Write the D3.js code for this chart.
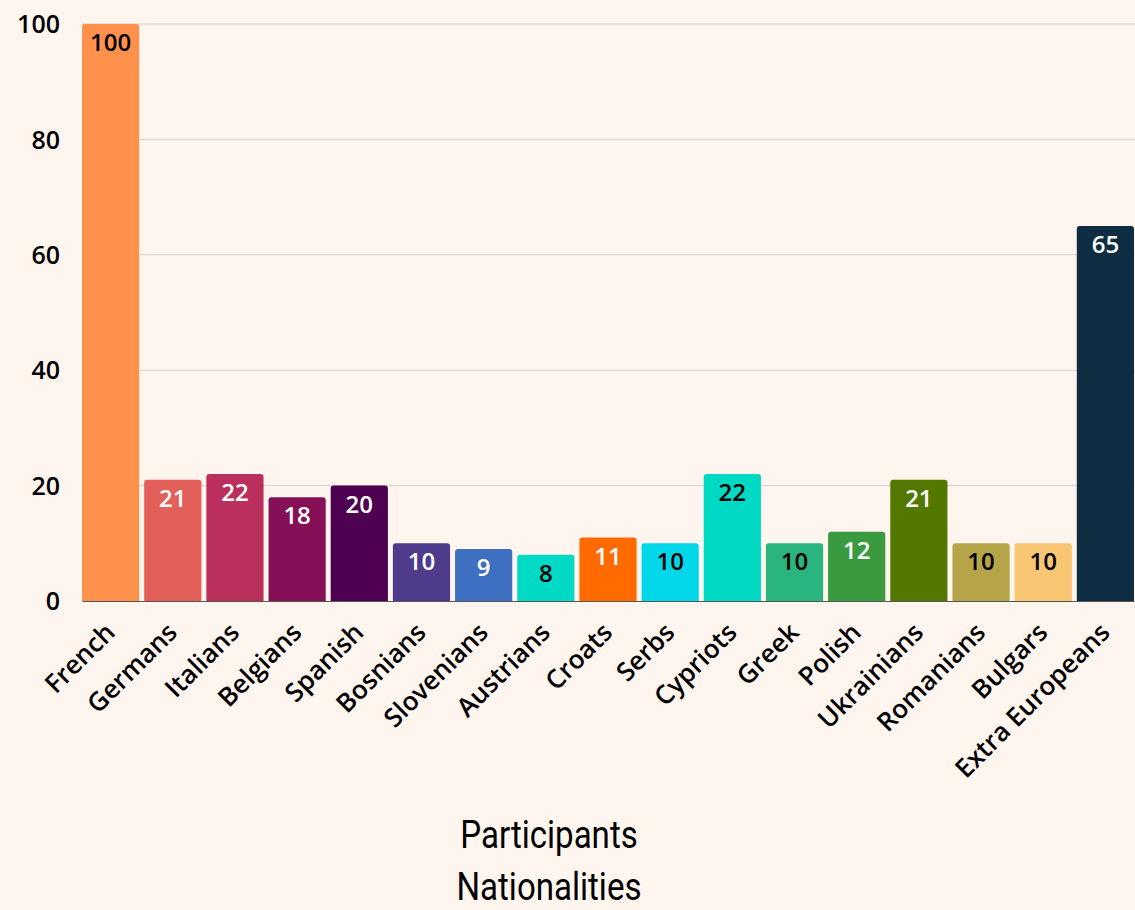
<!DOCTYPE html>
<html><head><meta charset="utf-8">
<script src="https://cdn.jsdelivr.net/npm/d3@7"></script>
<style>
html,body{margin:0;padding:0;background:#FFF5EF;}
svg{display:block;}
</style></head>
<body>
<svg id="chart" width="1135" height="910"></svg>
<script>
const categories = ["French","Germans","Italians","Belgians","Spanish","Bosnians","Slovenians","Austrians","Croats","Serbs","Cypriots","Greek","Polish","Ukrainians","Romanians","Bulgars","Extra Europeans"];
const values = [100,21,22,18,20,10,9,8,11,10,22,10,12,21,10,10,65];
const barColors = ["#FF914D","#E35F5A","#BA2F5B","#861057","#4E0051","#4F3B8C","#3F6FC0","#00D9C4","#FF6B00","#00D8EA","#00D9C4","#29B57D","#3A9A40","#527800","#B5A448","#F8C572","#0E2D42"];
const labelColors = ["#000","#fff","#fff","#fff","#fff","#fff","#fff","#000","#fff","#000","#000","#000","#fff","#fff","#000","#000","#fff"];
const yTicks = [0,20,40,60,80,100];
const axisTitle = ["Participants","Nationalities"];

const svg = d3.select("#chart");
const margin = {left:82, right:1, top:24, bottom:309};
const W = 1135, H = 910;
const x = d3.scaleBand().domain(categories).range([margin.left, W - margin.right]).paddingInner(0.08).paddingOuter(0);
const y = d3.scaleLinear().domain([0,100]).range([H - margin.bottom, margin.top]);
const font = "'Open Sans', 'Noto Sans', sans-serif";

svg.append("rect").attr("width",W).attr("height",H).attr("fill","#FFF5EF");

// gridlines
svg.append("g").selectAll("line").data(yTicks.filter(d=>d>0)).join("line")
  .attr("x1", margin.left).attr("x2", W)
  .attr("y1", d=>y(d)).attr("y2", d=>y(d))
  .attr("stroke","#D8CDC8").attr("stroke-width",1);

// y tick labels
const yAxis = d3.axisLeft(y).tickValues(yTicks).tickSize(0).tickPadding(22);
const gy = svg.append("g").attr("transform",`translate(${margin.left},0)`).call(yAxis);
gy.select(".domain").remove();
gy.selectAll("text").attr("font-family",font).attr("font-size",25).attr("font-weight",600).attr("fill","#000").attr("dy","0.35em");

// bars with rounded top corners
const r = 3;
function barPath(d,i){
  const x0 = x(categories[i]), w = x.bandwidth(), y0 = y(d), y1 = y(0);
  return `M${x0},${y1}V${y0+r}Q${x0},${y0} ${x0+r},${y0}H${x0+w-r}Q${x0+w},${y0} ${x0+w},${y0+r}V${y1}Z`;
}
svg.append("g").selectAll("path").data(values).join("path")
  .attr("d",(d,i)=>barPath(d,i))
  .attr("fill",(d,i)=>barColors[i]);

// x axis
const xAxis = d3.axisBottom(x).tickSize(0).tickPadding(0);
const gx = svg.append("g").attr("transform",`translate(0,${y(0)})`).call(xAxis);
gx.select(".domain").attr("stroke","#555").attr("stroke-width",1.2);
gx.selectAll("text")
  .attr("font-family",font).attr("font-size",26).attr("font-weight",600).attr("fill","#000")
  .attr("text-anchor","end").attr("dy",null).attr("y",null)
  .attr("transform","translate(6,33) rotate(-45)");

// value labels
svg.append("g").selectAll("text").data(values).join("text")
  .attr("x",(d,i)=>x(categories[i]) + x.bandwidth()/2)
  .attr("y",d=>y(d) + 27)
  .attr("text-anchor","middle")
  .attr("font-family",font).attr("font-size",24).attr("font-weight",600)
  .attr("fill",(d,i)=>labelColors[i])
  .text(d=>d);

// axis title
svg.append("g").selectAll("text").data(axisTitle).join("text")
  .attr("x",549).attr("y",(d,i)=>848 + i*52)
  .attr("text-anchor","middle")
  .attr("font-family","Roboto, sans-serif").attr("font-size",38)
  .attr("transform","translate(549,0) scale(0.87,1) translate(-549,0)")
  .attr("fill","#000")
  .text(d=>d);
</script>
</body></html>
